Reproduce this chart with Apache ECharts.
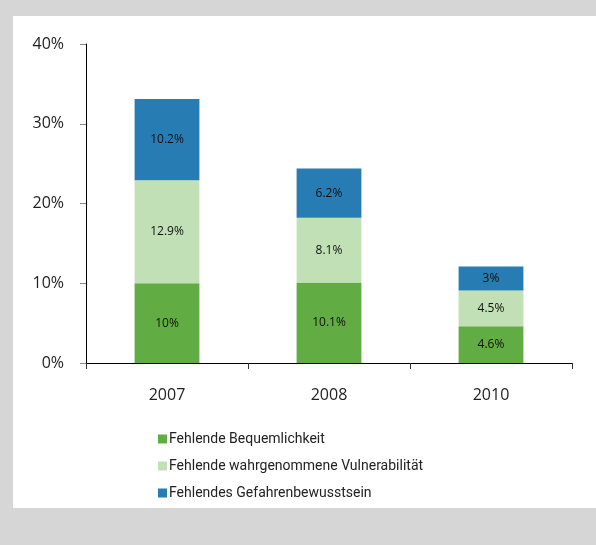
<!DOCTYPE html>
<html>
<head>
<meta charset="utf-8">
<script src="https://cdn.jsdelivr.net/npm/echarts@6/dist/echarts.min.js"></script>
<style>
  html, body { margin: 0; padding: 0; background: #d6d6d6; }
  #chart { width: 596px; height: 545px; }
</style>
</head>
<body>
<div id="chart"></div>
<script>
var years = ['2007', '2008', '2010'];
var bequemlichkeit = [10, 10.1, 4.6];
var vulnerabilitaet = [12.9, 8.1, 4.5];
var gefahrenbewusstsein = [10.2, 6.2, 3];
var yTicks = [0, 10, 20, 30, 40];

var myChart = echarts.init(document.getElementById('chart'));

function barSeries(name, values, color) {
	return {
		name: name,
		type: 'bar',
		stack: 'total',
		barWidth: '40%',
		data: values,
		itemStyle: { color: color },
		label: {
			show: true,
			position: 'inside',
			color: '#111',
			fontFamily: 'Open Sans',
			fontSize: 12,
			formatter: function (p) { return p.value + '%'; }
		}
	};
}

var option = {
	backgroundColor: '#d6d6d6',
	animation: false,
	graphic: [{
		type: 'rect',
		shape: { x: 13, y: 16, width: 583, height: 492 },
		style: { fill: '#ffffff' },
		z: -10
	}],
	grid: { left: 86, right: 24, top: 44, bottom: 182 },
	legend: {
		orient: 'vertical',
		left: 153,
		top: 427,
		itemWidth: 9,
		itemHeight: 9,
		itemGap: 13,
		icon: 'rect',
		textStyle: {
			fontFamily: 'Roboto',
			fontSize: 14,
			color: '#222',
			padding: [0, 0, 0, -3]
		},
		data: ['Fehlende Bequemlichkeit', 'Fehlende wahrgenommene Vulnerabilität', 'Fehlendes Gefahrenbewusstsein']
	},
	xAxis: {
		type: 'category',
		data: years,
		axisLine: { lineStyle: { color: '#000', width: 1 } },
		axisTick: { show: true, length: 6, lineStyle: { color: '#333' } },
		axisLabel: { margin: 24, fontFamily: 'Open Sans', fontSize: 16, color: '#222' }
	},
	yAxis: {
		type: 'value',
		min: yTicks[0],
		max: yTicks[yTicks.length - 1],
		interval: 10,
		splitLine: { show: false },
		axisLine: { show: true, lineStyle: { color: '#000', width: 1 } },
		axisTick: { show: true, length: 6, lineStyle: { color: '#888' } },
		axisLabel: {
			margin: 22,
			fontFamily: 'Open Sans',
			fontSize: 16,
			color: '#222',
			formatter: '{value}%'
		}
	},
	series: [
		barSeries('Fehlende Bequemlichkeit', bequemlichkeit, '#62ad43'),
		barSeries('Fehlende wahrgenommene Vulnerabilität', vulnerabilitaet, '#c2e0b5'),
		barSeries('Fehlendes Gefahrenbewusstsein', gefahrenbewusstsein, '#277db3')
	]
};

myChart.setOption(option);
</script>
</body>
</html>
